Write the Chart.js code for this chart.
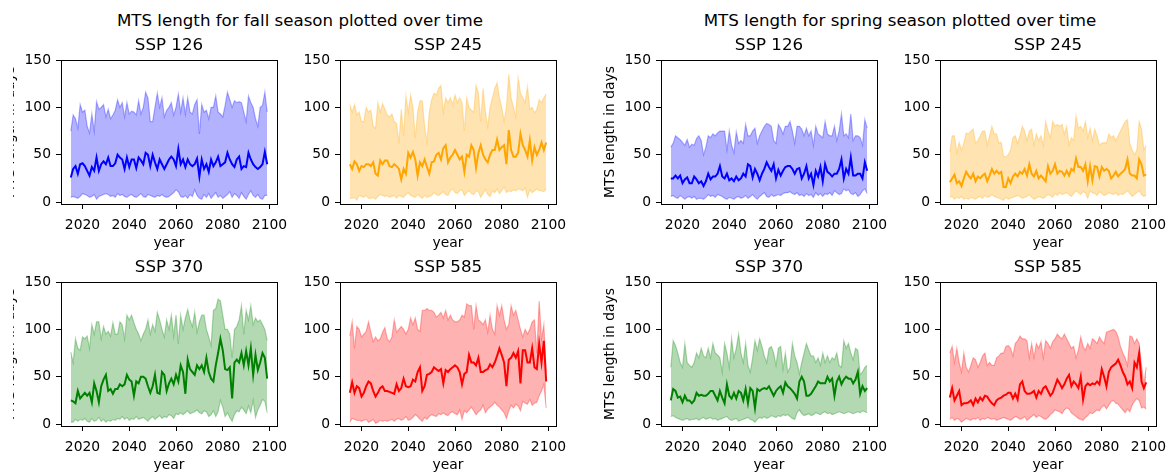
<!DOCTYPE html>
<html>
<head>
<meta charset="utf-8">
<script src="https://cdn.jsdelivr.net/npm/chart.js@4.4.1/dist/chart.umd.min.js"></script>
<style>
  body {margin: 0; width: 1168px; height: 474px; overflow: hidden; background: #fff; position: relative; font-family: 'DejaVu Sans', sans-serif;}
  canvas {position: absolute;}
  .suptitle {position: absolute; top: 11px; width: 600px; text-align: center; font-size: 16.67px; line-height: 20px; color: #000; white-space: nowrap;}
</style>
</head>
<body>
<div class="suptitle" style="left: 0px">MTS length for fall season plotted over time</div>
<div class="suptitle" style="left: 600px">MTS length for spring season plotted over time</div>
<canvas id="fall126"></canvas>
<canvas id="fall245"></canvas>
<canvas id="spring126"></canvas>
<canvas id="spring245"></canvas>
<canvas id="fall370"></canvas>
<canvas id="fall585"></canvas>
<canvas id="spring370"></canvas>
<canvas id="spring585"></canvas>
<script>
const years = [
  2015, 2016, 2017, 2018, 2019, 2020, 2021, 2022, 2023, 2024,
  2025, 2026, 2027, 2028, 2029, 2030, 2031, 2032, 2033, 2034,
  2035, 2036, 2037, 2038, 2039, 2040, 2041, 2042, 2043, 2044,
  2045, 2046, 2047, 2048, 2049, 2050, 2051, 2052, 2053, 2054,
  2055, 2056, 2057, 2058, 2059, 2060, 2061, 2062, 2063, 2064,
  2065, 2066, 2067, 2068, 2069, 2070, 2071, 2072, 2073, 2074,
  2075, 2076, 2077, 2078, 2079, 2080, 2081, 2082, 2083, 2084,
  2085, 2086, 2087, 2088, 2089, 2090, 2091, 2092, 2093, 2094,
  2095, 2096, 2097, 2098, 2099,
]
const xTicks = [2020, 2040, 2060, 2080, 2100]
const yTicks = [0, 50, 100, 150]

// fall season
const fall126Mean = [
  26, 35, 38, 30, 40, 41, 38, 33, 28, 37,
  33, 47, 33, 40, 43, 40, 47, 38, 38, 41,
  50, 47, 45, 35, 47, 37, 45, 45, 36, 47,
  44, 40, 52, 50, 38, 50, 42, 35, 45, 40,
  35, 40, 45, 48, 45, 38, 56, 40, 45, 37,
  45, 40, 38, 40, 46, 27, 45, 35, 40, 32,
  45, 38, 42, 48, 38, 40, 42, 52, 45, 40,
  37, 45, 48, 35, 38, 37, 52, 45, 40, 37,
  35, 37, 40, 53, 40,
]
const fall126Max = [
  75, 92, 88, 78, 103, 95, 97, 80, 73, 93,
  75, 106, 98, 100, 103, 90, 98, 88, 92, 97,
  108, 100, 105, 90, 105, 93, 96, 95, 92, 107,
  93, 100, 116, 110, 85, 85, 100, 115, 100, 110,
  90, 97, 100, 105, 92, 100, 114, 95, 110, 93,
  110, 95, 93, 103, 108, 72, 103, 95, 97, 88,
  100, 100, 112, 95, 93, 90, 102, 116, 108, 100,
  107, 105, 106, 105, 95, 85, 112, 105, 100, 88,
  80, 100, 102, 116, 95,
]
const fall126Min = [
  5, 6, 5, 4, 6, 9, 8, 7, 5, 6,
  8, 3, 6, 7, 8, 9, 8, 6, 7, 5,
  9, 7, 8, 6, 5, 7, 8, 6, 5, 7,
  9, 6, 5, 8, 7, 6, 5, 7, 6, 8,
  6, 5, 6, 8, 10, 13, 11, 6, 5, 7,
  4, 8, 6, 13, 7, 4, 3, 8, 5, 9,
  4, 7, 10, 5, 7, 4, 6, 8, 11, 5,
  9, 7, 4, 10, 6, 3, 8, 12, 7, 5,
  8, 4, 3, 7, 7,
]
const fall245Mean = [
  40, 35, 43, 40, 33, 38, 37, 40, 40, 38,
  42, 30, 28, 44, 40, 44, 44, 38, 37, 40,
  38, 35, 24, 35, 30, 52, 47, 53, 45, 28,
  42, 38, 45, 37, 30, 42, 43, 50, 52, 45,
  57, 60, 42, 47, 50, 55, 50, 45, 48, 32,
  50, 48, 60, 55, 36, 52, 60, 50, 45, 42,
  50, 55, 55, 66, 55, 58, 60, 40, 76, 55,
  48, 48, 52, 72, 60, 55, 48, 65, 44, 58,
  50, 55, 63, 55, 63,
]
const fall245Max = [
  103, 95, 103, 92, 95, 85, 85, 100, 95, 97,
  80, 78, 105, 95, 104, 98, 92, 90, 93, 85,
  83, 62, 98, 70, 112, 95, 113, 100, 68, 95,
  107, 107, 80, 63, 95, 108, 115, 113, 120, 123,
  95, 110, 105, 110, 103, 113, 105, 110, 105, 75,
  110, 100, 97, 95, 123, 115, 85, 120, 95, 80,
  100, 110, 120, 126, 110, 100, 85, 100, 135, 110,
  100, 90, 131, 115, 110, 105, 122, 98, 100, 94,
  98, 108, 105, 110, 114,
]
const fall245Min = [
  4, 4, 5, 2, 7, 6, 5, 7, 4, 4,
  5, 3, 6, 8, 7, 6, 7, 5, 6, 7,
  4, 7, 6, 5, 8, 10, 7, 6, 5, 8,
  6, 4, 7, 5, 6, 7, 10, 8, 7, 9,
  11, 8, 7, 12, 14, 10, 9, 12, 13, 7,
  10, 12, 9, 8, 12, 11, 5, 9, 13, 8,
  6, 12, 10, 14, 9, 12, 16, 10, 12, 11,
  13, 12, 14, 13, 12, 15, 5, 13, 10, 12,
  14, 12, 12, 11, 14,
]
const fall370Mean = [
  25, 24, 22, 35, 27, 30, 33, 30, 33, 23,
  43, 35, 23, 40, 47, 52, 35, 37, 32, 37,
  37, 42, 40, 42, 52, 47, 45, 30, 45, 43,
  50, 50, 48, 40, 33, 40, 52, 33, 32, 55,
  52, 35, 43, 48, 42, 52, 45, 62, 55, 32,
  68, 58, 55, 52, 62, 58, 62, 55, 70, 55,
  48, 45, 62, 75, 90, 78, 58, 57, 60, 27,
  65, 68, 65, 75, 62, 77, 62, 80, 52, 73,
  57, 65, 75, 70, 48,
]
const fall370Max = [
  76, 65, 90, 80, 78, 92, 90, 93, 80, 105,
  95, 108, 108, 90, 103, 95, 98, 93, 107, 95,
  95, 108, 105, 90, 115, 110, 115, 107, 100, 95,
  88, 95, 100, 110, 95, 105, 98, 118, 110, 100,
  92, 110, 100, 115, 93, 115, 85, 115, 100, 112,
  121, 110, 103, 118, 97, 108, 115, 115, 100, 92,
  83, 120, 122, 132, 130, 115, 100, 100, 95, 70,
  100, 103, 110, 125, 95, 120, 110, 125, 105, 112,
  108, 110, 105, 100, 88,
]
const fall370Min = [
  2, 2, 5, 3, 5, 4, 6, 3, 2, 6,
  3, 4, 7, 3, 5, 2, 4, 3, 5, 4,
  6, 5, 8, 5, 7, 4, 6, 5, 8, 5,
  6, 7, 5, 3, 6, 8, 5, 7, 9, 6,
  8, 7, 10, 9, 6, 11, 10, 12, 10, 12,
  14, 11, 12, 13, 15, 12, 11, 14, 13, 8,
  10, 14, 8, 13, 25, 18, 8, 12, 7, 3,
  10, 14, 13, 18, 15, 11, 19, 12, 25, 7,
  15, 20, 26, 24, 12,
]
const fall585Mean = [
  33, 44, 33, 40, 38, 29, 33, 40, 45, 43,
  35, 29, 33, 38, 40, 35, 35, 34, 33, 32,
  42, 35, 38, 48, 40, 39, 40, 47, 45, 55,
  60, 35, 40, 52, 53, 55, 60, 58, 56, 58,
  43, 57, 55, 58, 60, 62, 60, 55, 42, 53,
  55, 73, 65, 65, 62, 70, 55, 55, 57, 58,
  63, 60, 65, 72, 80, 73, 65, 40, 68, 70,
  75, 70, 77, 43, 78, 78, 65, 65, 80, 60,
  58, 85, 65, 88, 45,
]
const fall585Max = [
  93, 108, 80, 103, 100, 92, 95, 98, 108, 97,
  87, 92, 88, 90, 97, 102, 90, 87, 92, 110,
  97, 100, 103, 100, 95, 100, 112, 105, 112, 100,
  98, 120, 120, 122, 120, 120, 118, 113, 115, 118,
  112, 120, 110, 115, 110, 108, 108, 110, 115, 113,
  127, 125, 125, 100, 125, 110, 108, 105, 110, 97,
  115, 100, 95, 125, 115, 125, 110, 100, 105, 125,
  115, 120, 110, 100, 92, 100, 95, 100, 108, 110,
  75, 130, 90, 105, 55,
]
const fall585Min = [
  2, 6, 5, 4, 4, 3, 4, 5, 2, 3,
  5, 1, 2, 4, 3, 4, 3, 4, 5, 3,
  5, 6, 4, 5, 8, 4, 5, 7, 10, 8,
  5, 3, 7, 5, 8, 10, 9, 8, 11, 10,
  12, 10, 9, 12, 13, 11, 10, 15, 5, 14,
  12, 15, 18, 14, 10, 13, 15, 20, 12, 16,
  18, 20, 23, 20, 18, 15, 12, 6, 14, 20,
  17, 21, 19, 14, 24, 22, 21, 26, 20, 22,
  23, 30, 35, 42, 17,
]

// spring season
const spring126Mean = [
  25, 25, 28, 25, 28, 20, 24, 26, 20, 20,
  27, 24, 20, 22, 17, 22, 30, 24, 27, 27,
  30, 38, 27, 25, 30, 23, 25, 22, 27, 23,
  25, 30, 27, 40, 38, 26, 35, 30, 23, 30,
  35, 42, 37, 33, 40, 25, 34, 28, 33, 37,
  38, 38, 35, 30, 35, 36, 25, 30, 38, 25,
  30, 18, 33, 27, 37, 22, 40, 32, 30, 27,
  30, 30, 35, 45, 25, 35, 30, 47, 28, 28,
  30, 30, 25, 42, 33,
]
const spring126Max = [
  58, 62, 70, 68, 66, 63, 60, 66, 58, 61,
  60, 67, 70, 65, 50, 58, 70, 68, 72, 70,
  73, 75, 75, 75, 55, 75, 60, 52, 74, 62,
  65, 62, 82, 70, 70, 75, 78, 62, 70, 75,
  80, 83, 82, 80, 65, 62, 82, 78, 72, 80,
  80, 85, 75, 62, 80, 80, 77, 70, 78, 70,
  75, 60, 80, 72, 70, 68, 85, 72, 70, 70,
  80, 65, 75, 93, 70, 72, 68, 93, 65, 70,
  70, 68, 60, 87, 78,
]
const spring126Min = [
  6, 7, 5, 4, 7, 5, 3, 5, 6, 4,
  6, 3, 4, 4, 3, 5, 8, 6, 7, 5,
  8, 7, 6, 4, 3, 5, 4, 3, 5, 6,
  4, 5, 7, 4, 6, 8, 5, 3, 6, 8,
  10, 6, 5, 8, 6, 7, 8, 7, 9, 10,
  10, 11, 9, 8, 10, 7, 8, 6, 9, 7,
  8, 5, 10, 7, 9, 6, 9, 8, 10, 7,
  12, 10, 8, 9, 14, 12, 13, 9, 8, 10,
  6, 8, 12, 14, 9,
]
const spring245Mean = [
  21, 25, 29, 20, 22, 17, 25, 32, 28, 25,
  30, 22, 27, 25, 28, 30, 22, 28, 35, 30,
  33, 30, 32, 16, 16, 25, 20, 27, 30, 27,
  32, 30, 35, 28, 40, 30, 27, 33, 25, 28,
  25, 22, 38, 30, 33, 40, 30, 33, 32, 28,
  33, 28, 35, 33, 46, 37, 37, 33, 40, 22,
  38, 23, 38, 37, 27, 37, 33, 35, 33, 25,
  28, 32, 27, 30, 32, 35, 45, 30, 28, 28,
  25, 45, 40, 28, 29,
]
const spring245Max = [
  53, 70, 70, 52, 63, 55, 62, 73, 72, 75,
  77, 62, 65, 70, 75, 75, 60, 70, 80, 72,
  72, 62, 63, 48, 48, 50, 55, 68, 70, 62,
  70, 80, 75, 65, 75, 77, 60, 72, 65, 70,
  60, 85, 75, 68, 85, 80, 82, 80, 82, 72,
  80, 60, 68, 65, 91, 78, 80, 75, 85, 68,
  78, 65, 77, 70, 60, 62, 63, 62, 72, 68,
  70, 65, 70, 75, 80, 85, 87, 62, 55, 50,
  55, 85, 77, 55, 60,
]
const spring245Min = [
  5, 6, 3, 5, 4, 6, 3, 4, 3, 5,
  4, 3, 5, 6, 4, 7, 5, 6, 8, 6,
  5, 4, 3, 2, 5, 3, 4, 5, 6, 7,
  6, 4, 5, 6, 8, 5, 3, 4, 6, 5,
  4, 6, 8, 7, 5, 9, 7, 10, 8, 9,
  10, 8, 6, 9, 12, 10, 8, 11, 10, 4,
  12, 10, 9, 7, 11, 9, 7, 8, 10, 9,
  8, 10, 7, 9, 8, 10, 12, 9, 6, 8,
  10, 12, 8, 6, 7,
]
const spring370Mean = [
  25, 37, 35, 28, 29, 23, 30, 25, 25, 22,
  25, 33, 30, 31, 30, 30, 32, 35, 35, 30,
  25, 35, 28, 22, 42, 30, 27, 33, 27, 35,
  33, 25, 37, 22, 38, 35, 17, 37, 35, 37,
  38, 37, 40, 35, 30, 35, 38, 40, 33, 44,
  40, 38, 35, 32, 27, 45, 50, 45, 30, 30,
  32, 36, 40, 45, 43, 43, 43, 50, 45, 48,
  30, 45, 50, 42, 47, 50, 48, 48, 43, 47,
  55, 32, 40, 35, 38,
]
const spring370Max = [
  60, 88, 83, 75, 65, 60, 85, 65, 62, 60,
  65, 75, 70, 80, 72, 70, 80, 70, 85, 75,
  73, 70, 55, 85, 75, 60, 90, 70, 80, 95,
  75, 65, 85, 62, 55, 70, 88, 78, 90, 82,
  72, 65, 80, 82, 75, 62, 80, 82, 58, 75,
  55, 60, 85, 72, 65, 53, 65, 75, 85, 78,
  72, 72, 65, 70, 62, 75, 65, 72, 65, 70,
  68, 75, 62, 60, 88, 80, 85, 75, 68, 80,
  78, 52, 55, 60, 62,
]
const spring370Min = [
  8, 9, 7, 6, 5, 4, 5, 6, 4, 5,
  5, 6, 4, 6, 7, 5, 6, 7, 5, 6,
  4, 5, 6, 7, 8, 5, 4, 5, 6, 3,
  4, 5, 6, 7, 5, 4, 2, 5, 7, 6,
  8, 6, 7, 9, 8, 7, 9, 8, 10, 9,
  10, 8, 6, 5, 12, 15, 11, 9, 10, 11,
  9, 10, 12, 11, 10, 12, 13, 11, 12, 10,
  11, 12, 13, 12, 11, 12, 13, 12, 11, 12,
  13, 12, 14, 13, 12,
]
const spring585Mean = [
  28, 38, 25, 30, 35, 20, 22, 22, 23, 25,
  20, 27, 23, 28, 25, 30, 29, 25, 22, 20,
  25, 27, 28, 30, 31, 33, 33, 27, 32, 26,
  42, 45, 35, 32, 32, 33, 35, 28, 35, 32,
  38, 40, 35, 30, 33, 40, 47, 43, 38, 42,
  48, 52, 40, 45, 42, 38, 50, 26, 40, 43,
  41, 43, 42, 45, 42, 58, 50, 40, 55, 60,
  62, 64, 68, 62, 55, 50, 42, 45, 38, 65,
  60, 75, 45, 38, 44,
]
const spring585Max = [
  75, 82, 65, 80, 65, 55, 75, 60, 55, 62,
  70, 68, 60, 65, 72, 75, 62, 65, 62, 62,
  70, 72, 75, 75, 82, 83, 80, 72, 85, 88,
  93, 90, 90, 88, 70, 85, 70, 85, 80, 87,
  70, 88, 85, 80, 87, 90, 95, 92, 90, 95,
  90, 85, 80, 82, 70, 78, 92, 82, 78, 85,
  80, 90, 88, 85, 92, 88, 85, 97, 98, 99,
  100, 98, 92, 82, 75, 70, 62, 93, 92, 85,
  90, 85, 62, 42, 60,
]
const spring585Min = [
  5, 7, 4, 6, 5, 2, 4, 6, 5, 4,
  6, 5, 7, 4, 6, 5, 7, 6, 5, 6,
  4, 5, 6, 7, 6, 5, 4, 6, 8, 7,
  5, 6, 8, 4, 6, 8, 10, 7, 9, 8,
  6, 5, 7, 10, 12, 15, 14, 13, 11, 15,
  17, 16, 12, 10, 8, 6, 5, 4, 7, 9,
  12, 11, 13, 15, 14, 18, 20, 16, 20, 24,
  25, 22, 21, 18, 15, 12, 16, 13, 20, 24,
  27, 25, 17, 18, 16,
]

Chart.defaults.font.family = 'DejaVu Sans'
Chart.defaults.font.size = 13.89
Chart.defaults.color = '#000'
Chart.defaults.animation = false
Chart.defaults.plugins.legend.display = false
Chart.defaults.plugins.tooltip.enabled = false

// matplotlib style box round each axes
const spines = {
  id: 'spines',
  afterDraw(chart) {
    const {ctx, chartArea: a} = chart
    ctx.save()
    ctx.strokeStyle = '#000'
    ctx.lineWidth = 1
    ctx.strokeRect(Math.round(a.left) + 0.5, Math.round(a.top) + 0.5, Math.round(a.right - a.left), Math.round(a.bottom - a.top))
    ctx.restore()
  }
}

const colors = {blue: [0, 0, 255], orange: [255, 165, 0], green: [0, 128, 0], red: [255, 0, 0]}
const rgba = (c, a) => `rgba(${c[0]}, ${c[1]}, ${c[2]}, ${a})`

const panels = [
  {id: 'fall126', title: 'SSP 126', color: 'blue', mean: fall126Mean, max: fall126Max, min: fall126Min, yLabel: true, clip: true, col: 0, row: 0},
  {id: 'fall245', title: 'SSP 245', color: 'orange', mean: fall245Mean, max: fall245Max, min: fall245Min, col: 1, row: 0},
  {id: 'spring126', title: 'SSP 126', color: 'blue', mean: spring126Mean, max: spring126Max, min: spring126Min, yLabel: true, col: 2, row: 0},
  {id: 'spring245', title: 'SSP 245', color: 'orange', mean: spring245Mean, max: spring245Max, min: spring245Min, col: 3, row: 0},
  {id: 'fall370', title: 'SSP 370', color: 'green', mean: fall370Mean, max: fall370Max, min: fall370Min, yLabel: true, clip: true, col: 0, row: 1},
  {id: 'fall585', title: 'SSP 585', color: 'red', mean: fall585Mean, max: fall585Max, min: fall585Min, col: 1, row: 1},
  {id: 'spring370', title: 'SSP 370', color: 'green', mean: spring370Mean, max: spring370Max, min: spring370Min, yLabel: true, col: 2, row: 1},
  {id: 'spring585', title: 'SSP 585', color: 'red', mean: spring585Mean, max: spring585Max, min: spring585Min, col: 3, row: 1},
]

const axLeft = [61, 340, 661, 940]
const axTop = [60, 282]
const axW = 216
const axH = 144

panels.forEach((p) => {
  const canvas = document.getElementById(p.id)
  const left = axLeft[p.col] - 70
  canvas.width = 70 + axW + 25
  canvas.height = 27 + axH + 48 + 2
  canvas.style.left = left + 'px'
  canvas.style.top = (axTop[p.row] - 27) + 'px'
  // the figure is cut at the left edge, only a sliver of this label shows
  if (p.clip) canvas.style.clipPath = `inset(0 0 0 ${13 - left}px)`
  const c = colors[p.color]
  new Chart(canvas, {
    type: 'line',
    data: {
      labels: years,
      datasets: [
        {data: p.mean, borderColor: rgba(c, 1), borderWidth: 2, pointRadius: 0, fill: false},
        {data: p.max, borderColor: rgba(c, 0.3), backgroundColor: rgba(c, 0.3), borderWidth: 1.2, pointRadius: 0, fill: '+1'},
        {data: p.min, borderColor: rgba(c, 0.3), borderWidth: 1.2, pointRadius: 0, fill: false},
      ],
    },
    options: {
      responsive: false,
      layout: {padding: {left: 10, right: 25, top: 3, bottom: 2}},
      plugins: {
        title: {display: true, text: p.title, fullSize: false, color: '#000', font: {size: 16.67, weight: 'normal'}, padding: {top: 0, bottom: 4}},
      },
      scales: {
        x: {
          type: 'linear',
          min: 2010.8,
          max: 2103.2,
          afterBuildTicks: (s) => { s.ticks = xTicks.map((v) => ({value: v})) },
          afterFit: (s) => { s.height = 48 },
          ticks: {padding: 8, maxRotation: 0, callback: (v) => String(v)},
          grid: {drawOnChartArea: false, drawTicks: true, tickLength: 5, color: '#000'},
          border: {display: false},
          title: {display: true, text: 'year', padding: {top: 0, bottom: 0}},
        },
        y: {
          min: -2,
          max: 150,
          afterBuildTicks: (s) => { s.ticks = yTicks.map((v) => ({value: v})) },
          afterFit: (s) => { s.width = 60 },
          ticks: {padding: 5, callback: (v) => String(v)},
          grid: {drawOnChartArea: false, drawTicks: true, tickLength: 5, color: '#000'},
          border: {display: false},
          title: {display: !!p.yLabel, text: 'MTS length in days', padding: {top: 0.67, bottom: 0}},
        },
      },
    },
    plugins: [spines],
  })
})
</script>
</body>
</html>
